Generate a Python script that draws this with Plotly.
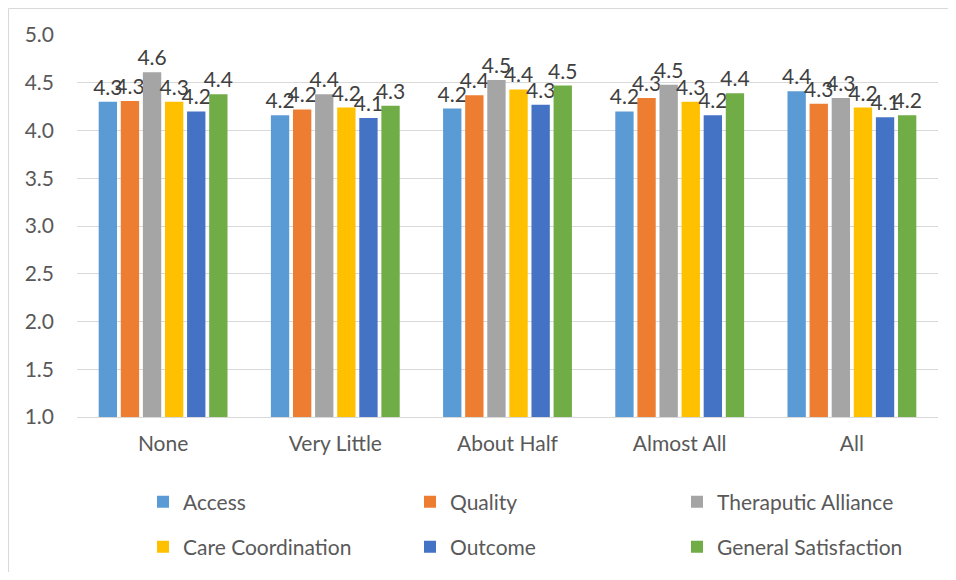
import plotly.graph_objects as go

categories = ["None", "Very Little", "About Half", "Almost All", "All"]
access = [4.30, 4.16, 4.23, 4.20, 4.41]
quality = [4.31, 4.22, 4.37, 4.34, 4.28]
theraputic = [4.61, 4.38, 4.53, 4.48, 4.34]
care = [4.30, 4.24, 4.43, 4.30, 4.24]
outcome = [4.20, 4.13, 4.27, 4.16, 4.14]
general = [4.38, 4.26, 4.47, 4.39, 4.16]
y_ticks = [1.0, 1.5, 2.0, 2.5, 3.0, 3.5, 4.0, 4.5, 5.0]

series = [
    ("Access", access, "#5B9BD5", "legend"),
    ("Quality", quality, "#ED7D31", "legend"),
    ("Theraputic Alliance", theraputic, "#A5A5A5", "legend"),
    ("Care Coordination", care, "#FFC000", "legend2"),
    ("Outcome", outcome, "#4472C4", "legend2"),
    ("General Satisfaction", general, "#70AD47", "legend2"),
]

FONT = "Lato, 'Noto Sans', sans-serif"
FS = 21

fig = go.Figure()
for name, vals, color, lg in series:
    fig.add_trace(go.Bar(
        x=categories, y=vals, name=name,
        marker=dict(color=color, line=dict(width=6, color="rgba(255,255,255,0)")),
        text=vals, texttemplate="%{y:.1f}", textposition="outside",
        constraintext="none", cliponaxis=False,
        textfont=dict(family=FONT, size=FS, color="#404040"),
        legend=lg,
    ))

# page has an 8px body margin; figure coordinates = page coordinates - 8
OFF = 8
W, H = 940, 564
L, R, T, B = 77 - OFF, 10, 35 - OFF, 155
pw, ph = W - L - R, H - T - B

def px_x(x):
    return (x - OFF - L) / pw

def px_y(y):
    return (H - B - (y - OFF)) / ph

fig.update_layout(
    width=W, height=H,
    margin=dict(l=L, r=R, t=T, b=B, autoexpand=False),
    paper_bgcolor="white", plot_bgcolor="white",
    barmode="group", bargap=0.23, bargroupgap=0.17,
    font=dict(family=FONT, color="#595959", size=FS),
    xaxis=dict(
        showgrid=False, showline=True, linecolor="#d9d9d9", linewidth=1,
        ticks="", tickfont=dict(size=FS, color="#595959"),
        ticklabelstandoff=8,
    ),
    yaxis=dict(
        range=[1.0, 5.0], tickvals=y_ticks, tickformat=".1f",
        showgrid=True, gridcolor="#d9d9d9", gridwidth=1,
        zeroline=False, showline=False, ticks="",
        tickfont=dict(size=FS, color="#595959"),
        ticklabelstandoff=22,
    ),
    legend=dict(
        orientation="h", x=px_x(143), xanchor="left",
        y=px_y(502), yanchor="middle",
        entrywidth=222, entrywidthmode="pixels",
        font=dict(size=FS, color="#595959"), bgcolor="rgba(0,0,0,0)",
    ),
    legend2=dict(
        orientation="h", x=px_x(143), xanchor="left",
        y=px_y(547), yanchor="middle",
        entrywidth=222, entrywidthmode="pixels",
        font=dict(size=FS, color="#595959"), bgcolor="rgba(0,0,0,0)",
    ),
    shapes=[dict(
        type="rect", xref="paper", yref="paper",
        x0=px_x(OFF + 0.5), x1=px_x(1200), y0=px_y(800), y1=px_y(OFF + 0.5),
        line=dict(color="#d9d9d9", width=1), fillcolor="rgba(0,0,0,0)",
        layer="below",
    )],
)

fig.write_html("out.html")
